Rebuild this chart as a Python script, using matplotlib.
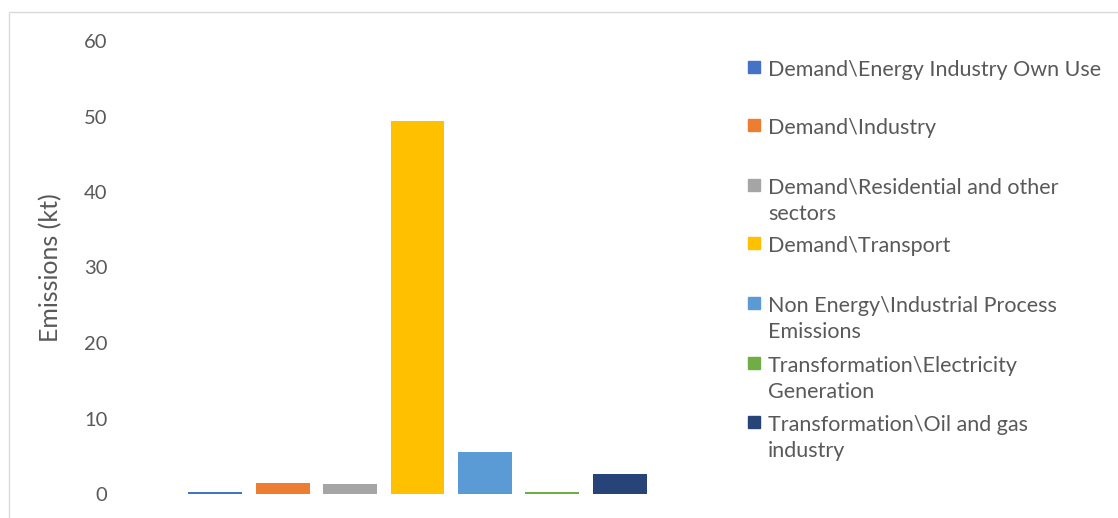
import matplotlib
matplotlib.use("Agg")
import matplotlib.pyplot as plt
from matplotlib.patches import Rectangle

# Emissions by sector (kt)
sectors = [
    "Demand\\Energy Industry Own Use",
    "Demand\\Industry",
    "Demand\\Residential and other\nsectors",
    "Demand\\Transport",
    "Non Energy\\Industrial Process\nEmissions",
    "Transformation\\Electricity\nGeneration",
    "Transformation\\Oil and gas\nindustry",
]
emissions = [0.25, 1.45, 1.3, 49.4, 5.55, 0.25, 2.6]
colors = ["#4472C4", "#ED7D31", "#A5A5A5", "#FFC000", "#5B9BD5", "#70AD47", "#264478"]
yticks = [0, 10, 20, 30, 40, 50, 60]

plt.rcParams['font.family'] = ['Lato', 'DejaVu Sans']
text_color = "#595959"

W, H = 1118, 518
fig = plt.figure(figsize=(W / 100, H / 100), dpi=100)

# chart-area border
fig.patches.append(Rectangle((9 / W, -0.05), 1.2, 1 - 12 / H + 0.05,
                             transform=fig.transFigure, fill=False,
                             edgecolor="#D9D9D9", linewidth=1.0))

ax = fig.add_axes([120 / W, 1 - 494 / H, (715 - 120) / W, (494 - 41) / H])
for i, (v, c) in enumerate(zip(emissions, colors)):
    ax.bar(i, v, width=0.8, color=c)

ax.set_xlim(-1.41, 7.41)
ax.set_ylim(0, 60)
ax.set_yticks(yticks)
ax.set_xticks([])
for s in ax.spines.values():
    s.set_visible(False)
ax.tick_params(axis="y", length=0, pad=9, labelsize=14.5, labelcolor=text_color)
ax.set_ylabel("Emissions (kt)", fontsize=18, color=text_color)
ax.yaxis.set_label_coords((62 - 120) / 595, 0.5)

# legend
first_line_y = [67, 125, 185, 243, 303, 363, 422]
for label, c, y in zip(sectors, colors, first_line_y):
    fig.patches.append(Rectangle((748 / W, 1 - (y + 6) / H), 12 / W, 12 / H,
                                 transform=fig.transFigure, color=c))
    fig.text(768 / W, 1 - (y - 7) / H, label, fontsize=15.5, color=text_color,
             va="top", ha="left", linespacing=1.4)

fig.savefig("out.png", dpi=100, facecolor="white")
